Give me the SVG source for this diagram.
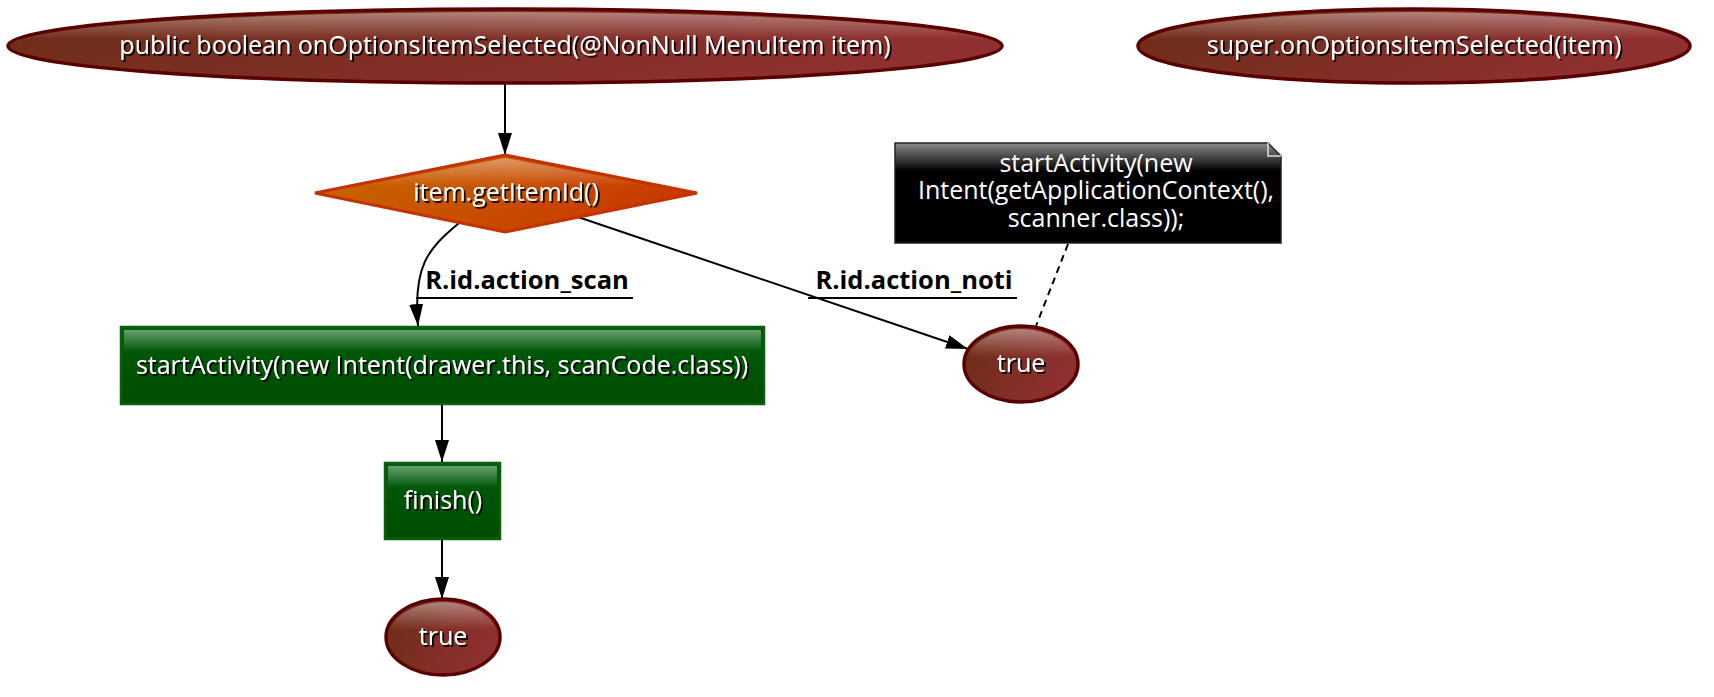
<svg xmlns="http://www.w3.org/2000/svg" width="1714" height="697" viewBox="0 0 1714 697">
<defs>
<linearGradient id="ellG" x1="0" y1="0" x2="1" y2="0.3">
<stop offset="0" stop-color="#6c2d17"/>
<stop offset="1" stop-color="#8f3030"/>
</linearGradient>
<linearGradient id="diaG" x1="0" y1="0" x2="1" y2="0.3">
<stop offset="0" stop-color="#c86a00"/>
<stop offset="1" stop-color="#c83a00"/>
</linearGradient>
<linearGradient id="recG" x1="0" y1="0" x2="0" y2="1">
<stop offset="0" stop-color="#005c0c"/>
<stop offset="1" stop-color="#004c00"/>
</linearGradient>
<linearGradient id="gloss" x1="0" y1="0" x2="0" y2="1">
<stop offset="0" stop-color="#ffffff" stop-opacity="0.4"/>
<stop offset="0.4" stop-color="#ffffff" stop-opacity="0"/>
<stop offset="1" stop-color="#ffffff" stop-opacity="0"/>
</linearGradient>
<linearGradient id="rgloss" x1="0" y1="0" x2="0" y2="1">
<stop offset="0" stop-color="#ffffff" stop-opacity="0.4"/>
<stop offset="1" stop-color="#ffffff" stop-opacity="0"/>
</linearGradient>
<linearGradient id="noteG" x1="0" y1="0" x2="0" y2="1">
<stop offset="0" stop-color="#8c8c8c"/>
<stop offset="0.28" stop-color="#000000"/>
<stop offset="1" stop-color="#000000"/>
</linearGradient>
<filter id="sh" x="-5%" y="-20%" width="110%" height="140%">
<feDropShadow dx="1.8" dy="1.8" stdDeviation="0.5" flood-color="#000" flood-opacity="1"/>
</filter>
<marker id="arr" viewBox="0 0 22 14" refX="22" refY="7" markerWidth="22" markerHeight="14" markerUnits="userSpaceOnUse" orient="auto">
<path d="M0,0 L22,7 L0,14 Z" fill="#000"/>
</marker>
<style>
.ell{fill:url(#ellG);stroke:#5a0000;stroke-width:3.5}
.gl{fill:url(#gloss);stroke:none}
.rec{fill:url(#recG);stroke:#0b5e0b;stroke-width:2.5}
.rgl{fill:url(#rgloss);stroke:none}
.t{font-family:"Open Sans","DejaVu Sans",sans-serif;font-size:25px;fill:#fff;text-anchor:middle;filter:url(#sh)}
.nt{font-family:"Open Sans","DejaVu Sans",sans-serif;font-size:25px;fill:#fff;text-anchor:middle}
.lb{font-family:"Open Sans","DejaVu Sans",sans-serif;font-size:25.5px;font-weight:bold;fill:#000;text-anchor:middle}
.e{fill:none;stroke:#000;stroke-width:2}
</style>
</defs>
<rect width="1714" height="697" fill="#fff"/>
<g id="connectors">
<path class="e" d="M505,83 L505,155" marker-end="url(#arr)"/>
<path class="e" d="M459,223 C428,249 413,265 418,326" marker-end="url(#arr)"/>
<path class="e" d="M575,216 L968,349" marker-end="url(#arr)"/>
<path class="e" d="M442,404 L442,462" marker-end="url(#arr)"/>
<path class="e" d="M442,539 L442,599" marker-end="url(#arr)"/>
<path d="M1068,244 L1036,326" fill="none" stroke="#000" stroke-width="2" stroke-dasharray="7,5"/>
<text class="lb" x="527" y="289">R.id.action_scan</text>
<line x1="416" y1="298" x2="633" y2="298" stroke="#000" stroke-width="2"/>
<text class="lb" x="914" y="289">R.id.action_noti</text>
<line x1="808" y1="298" x2="1017" y2="298" stroke="#000" stroke-width="2"/>
</g>
<g id="n_method">
<ellipse class="ell" cx="505" cy="46" rx="497" ry="37"/>
<ellipse class="gl" cx="505" cy="46" rx="494" ry="34"/>
<text class="t" x="505" y="54">public boolean onOptionsItemSelected(@NonNull MenuItem item)</text>
</g>
<g id="n_super">
<ellipse class="ell" cx="1414" cy="46" rx="276" ry="37"/>
<ellipse class="gl" cx="1414" cy="46" rx="273" ry="34"/>
<text class="t" x="1414" y="54">super.onOptionsItemSelected(item)</text>
</g>
<g id="n_switch">
<polygon points="505,155 697,193 505,232 315,193" fill="url(#diaG)" stroke="#c43200" stroke-width="3"/>
<polygon points="505,158 690,193 505,229 322,193" class="gl"/>
<text class="t" x="506" y="201">item.getItemId()</text>
</g>
<g id="n_start1">
<rect class="rec" x="121" y="327" width="643" height="77"/>
<rect class="rgl" x="124" y="330" width="637" height="22"/>
<text class="t" x="442" y="374">startActivity(new Intent(drawer.this, scanCode.class))</text>
</g>
<g id="n_finish">
<rect class="rec" x="385" y="463" width="115" height="76"/>
<rect class="rgl" x="388" y="466" width="109" height="22"/>
<text class="t" x="443" y="509">finish()</text>
</g>
<g id="n_true1">
<ellipse class="ell" cx="443" cy="637" rx="57" ry="38"/>
<ellipse class="gl" cx="443" cy="637" rx="54" ry="35"/>
<text class="t" x="443" y="645">true</text>
</g>
<g id="n_true2">
<ellipse class="ell" cx="1021" cy="364" rx="57" ry="38"/>
<ellipse class="gl" cx="1021" cy="364" rx="54" ry="35"/>
<text class="t" x="1021" y="372">true</text>
</g>
<g id="n_note">
<polygon points="895,143 1268,143 1281,156 1281,243 895,243" fill="url(#noteG)" stroke="#222" stroke-width="1.5"/>
<polyline points="1268,143 1268,156 1281,156" fill="none" stroke="#ddd" stroke-width="1.5"/>
<text class="nt" x="1096" y="172">startActivity(new</text>
<text class="nt" x="1096" y="199">Intent(getApplicationContext(),</text>
<text class="nt" x="1096" y="227">scanner.class));</text>
</g>
</svg>
